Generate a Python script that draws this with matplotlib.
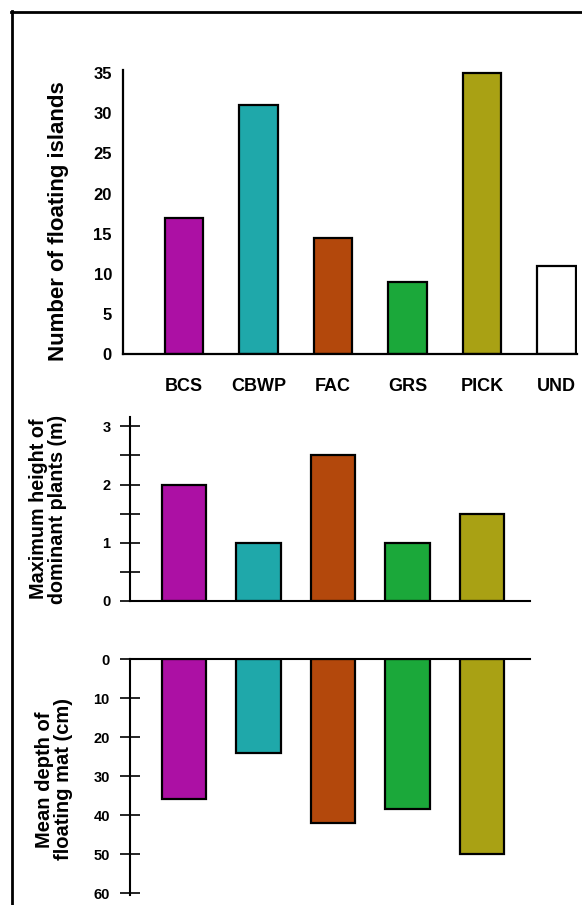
import matplotlib
matplotlib.use("Agg")
import matplotlib.pyplot as plt
from matplotlib.lines import Line2D
from matplotlib.ticker import MultipleLocator

# categories and values
categories = ["BCS", "CBWP", "FAC", "GRS", "PICK", "UND"]
n_islands = [17, 31, 14.5, 9, 35, 11]
max_height = [2, 1, 2.5, 1, 1.5]
mat_depth = [36, 24, 42, 38.5, 50]

colors = ["#AC10A4", "#1FA8AA", "#B3480C", "#1BA83A", "#A9A114", "#FFFFFF"]

plt.rcParams["font.family"] = ["Liberation Sans", "DejaVu Sans"]
plt.rcParams["font.weight"] = "bold"

fig = plt.figure(figsize=(5.82, 9.05), dpi=100)

# frame lines (left and top only)
fig.add_artist(Line2D([12 / 582, 12 / 582], [0, 1 - 11 / 905], transform=fig.transFigure,
                      color="black", lw=2))
fig.add_artist(Line2D([11 / 582, 1], [1 - 12 / 905, 1 - 12 / 905], transform=fig.transFigure,
                      color="black", lw=2))

# ---- panel 1: number of floating islands
ax1 = fig.add_axes([123 / 582, 1 - 354 / 905, 454 / 582, 284 / 905])
x1 = list(range(len(categories)))
ax1.bar(x1, n_islands, width=0.52, color=colors, edgecolor="black", linewidth=1.6)
ax1.set_xlim(-0.819, 5.275)
ax1.set_ylim(0, 35.4)
ax1.set_yticks([0, 5, 10, 15, 20, 25, 30, 35])
ax1.set_xticks(x1)
ax1.set_xticklabels(categories)
ax1.tick_params(axis="y", length=0, pad=8, labelsize=12)
ax1.tick_params(axis="x", length=0, pad=17, labelsize=13)
ax1.spines[["top", "right"]].set_visible(False)
ax1.spines[["left", "bottom"]].set_linewidth(1.6)
ax1.set_ylabel("Number of floating islands", fontsize=16, fontweight="bold", va="center")
ax1.yaxis.set_label_coords(-0.141, 0.467)

# ---- panel 2: maximum height of dominant plants
ax2 = fig.add_axes([130 / 582, 1 - 601 / 905, 400 / 582, 184 / 905])
x2 = list(range(len(max_height)))
ax2.bar(x2, max_height, width=0.6, color=colors[:5], edgecolor="black", linewidth=1.6)
ax2.set_xlim(-0.725, 4.644)
ax2.set_ylim(0, 3.16)
ax2.yaxis.set_major_locator(MultipleLocator(1))
ax2.yaxis.set_minor_locator(MultipleLocator(0.5))
ax2.tick_params(axis="y", which="both", direction="inout", length=14, width=1.2,
                pad=7, labelsize=10.5)
ax2.set_xticks([])
ax2.spines[["top", "right"]].set_visible(False)
ax2.spines[["left", "bottom"]].set_linewidth(1.5)
ax2.set_ylabel("Maximum height of\ndominant plants (m)", fontsize=14.2,
               fontweight="bold", va="center", linespacing=1.0)
ax2.yaxis.set_label_coords(-0.205, 0.5)

# ---- panel 3: mean depth of floating mat
ax3 = fig.add_axes([130 / 582, 1 - 895 / 905, 400 / 582, 236 / 905])
ax3.bar(x2, mat_depth, width=0.6, color=colors[:5], edgecolor="black", linewidth=1.6)
ax3.set_xlim(-0.725, 4.644)
ax3.set_ylim(60.5, 0)
ax3.yaxis.set_major_locator(MultipleLocator(10))
ax3.tick_params(axis="y", direction="inout", length=15, width=1.2, pad=7, labelsize=10.5)
ax3.set_xticks([])
ax3.spines[["bottom", "right"]].set_visible(False)
ax3.spines[["left", "top"]].set_linewidth(1.5)
ax3.set_ylabel("Mean depth of\nfloating mat (cm)", fontsize=14.5,
               fontweight="bold", va="center", linespacing=1.05)
ax3.yaxis.set_label_coords(-0.19, 0.49)

fig.savefig("out.png", dpi=100, facecolor="white")
